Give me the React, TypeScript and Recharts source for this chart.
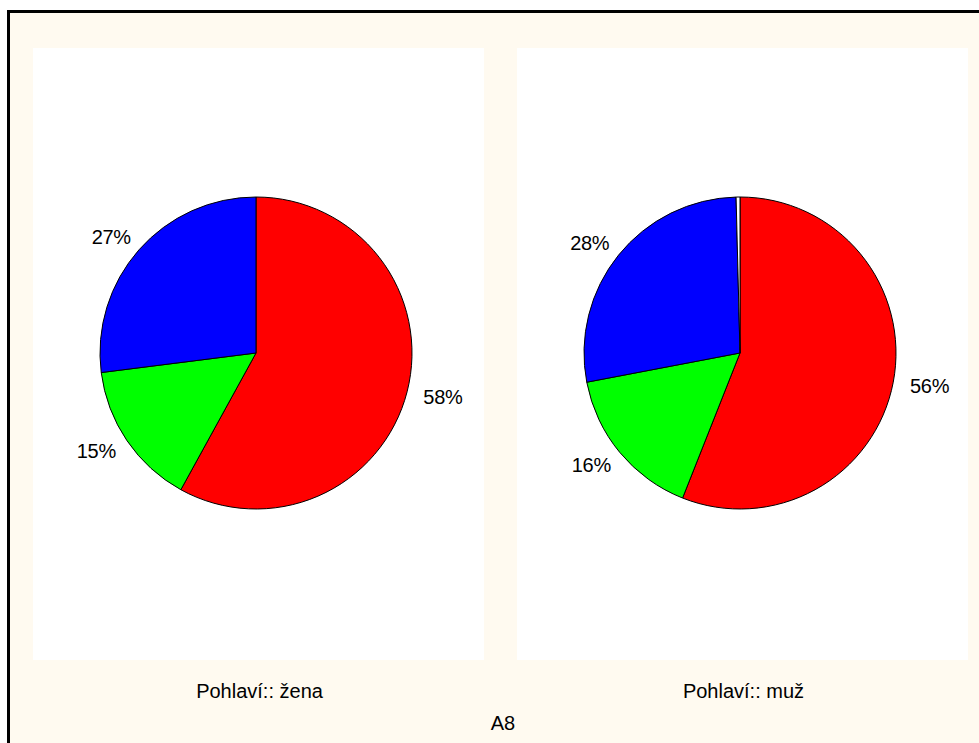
import { PieChart, Pie, Cell } from 'recharts'

const categories = ['A', 'B', 'C', 'chybí']
const colors = ['#ff0000', '#00ff00', '#0000ff', '#ffffff']
const zenaValues = [58, 15, 27, 0]
const muzValues = [56, 16, 27.6, 0.4]
const panelTitles = ['Pohlaví:: žena', 'Pohlaví:: muž']
const chartTitle = 'A8'

const font = '"Liberation Sans", Arial, sans-serif'
const RAD = Math.PI / 180

const toData = (vals: number[]) => vals.map((v, i) => ({ name: categories[i], value: v }))

// labels sit on a slightly flattened ring around the pie
const renderLabel = (props: any) => {
  const { cx, cy, midAngle, outerRadius, percent } = props
  const pct = Math.round(percent * 100)
  if (pct < 1) return null
  const x = cx + (outerRadius + 37) * Math.cos(-midAngle * RAD)
  const y = cy + (outerRadius + 19) * Math.sin(-midAngle * RAD)
  return (
    <text x={x} y={y} textAnchor="middle" dominantBaseline="central" fontSize={20} letterSpacing={-0.3} fontFamily={font} fill="#000">
      {pct}%
    </text>
  )
}

const panels = [
  { left: 33, values: zenaValues, title: panelTitles[0] },
  { left: 517, values: muzValues, title: panelTitles[1] },
]

export default function App() {
  return (
    <div style={{ position: 'absolute', left: 0, top: 0, width: 979, height: 743, background: '#fff', overflow: 'hidden', fontFamily: font }}>
      <div style={{ position: 'absolute', left: 7, top: 10, width: 972, height: 733, background: '#fffaf0', borderTop: '3px solid #000', borderLeft: '3px solid #000', boxSizing: 'border-box' }} />
      {panels.map((p, i) => (
        <div key={i} style={{ position: 'absolute', left: p.left, top: 48, width: 451, height: 612, background: '#fff' }}>
          <PieChart width={451} height={612} margin={{ top: 0, right: 0, bottom: 0, left: 0 }}>
            <Pie
              data={toData(p.values)}
              dataKey="value"
              cx={223}
              cy={305}
              outerRadius={156}
              startAngle={90}
              endAngle={-270}
              stroke="#000"
              strokeWidth={1}
              label={renderLabel}
              labelLine={false}
              isAnimationActive={false}
            >
              {p.values.map((_, j) => (
                <Cell key={j} fill={colors[j]} />
              ))}
            </Pie>
          </PieChart>
        </div>
      ))}
      {panels.map((p, i) => (
        <div key={'t' + i} style={{ position: 'absolute', left: p.left + 1, top: 680, width: 451, textAlign: 'center', fontSize: 20, color: '#000' }}>
          {p.title}
        </div>
      ))}
      <div style={{ position: 'absolute', left: 0, top: 712, width: 1006, textAlign: 'center', fontSize: 20, color: '#000' }}>
        {chartTitle}
      </div>
    </div>
  )
}
